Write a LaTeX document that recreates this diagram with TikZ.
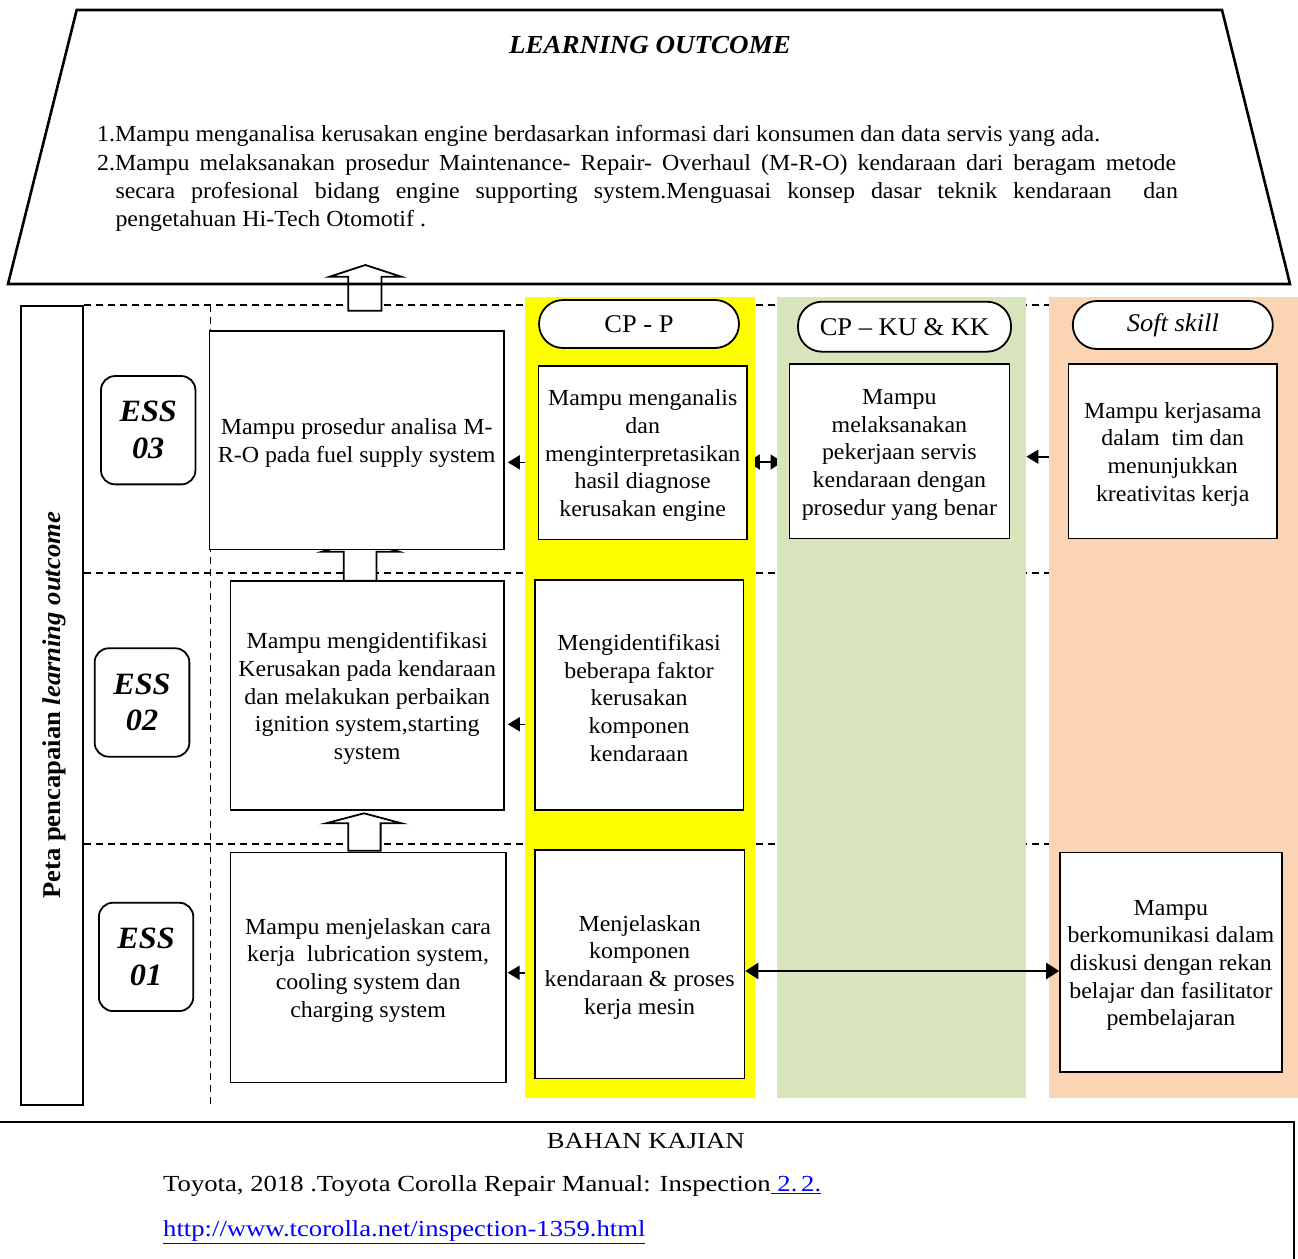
\documentclass[tikz,border=0pt]{standalone}
\usepackage{fontspec}
\setmainfont{Liberation Serif}[FakeStretch=1.04]
\newfontfamily\widefont{Liberation Serif}[FakeStretch=1.16]
\usetikzlibrary{arrows.meta,calc}
\pgfdeclarelayer{back}
\pgfdeclarelayer{cols}
\pgfsetlayers{back,cols,main}
\definecolor{colyellow}{HTML}{FFFF00}
\definecolor{colgreen}{HTML}{D8E4BC}
\definecolor{colpeach}{HTML}{FBD4B4}
\definecolor{linkblue}{HTML}{0000FF}
\newcommand{\toppad}{\rule{0pt}{22pt}}
\begin{document}
\begin{tikzpicture}[x=1pt,y=-1pt,
  box/.style={draw, fill=white, line width=1.6pt, align=center, inner sep=0pt, font=\fontsize{23}{27.7}\selectfont},
  ess/.style={draw, fill=white, line width=1.8pt, rounded corners=14pt, align=center, inner sep=0pt, font=\bfseries\itshape\fontsize{31}{36.7}\selectfont},
  pill/.style={draw, fill=white, line width=1.8pt, rounded corners=24pt, inner sep=0pt, font=\fontsize{25.5}{30}\selectfont},
  colbg/.style={fill=#1, draw=none, inner sep=0pt},
  grid/.style={dash pattern=on 7pt off 5pt, line width=1.4pt},
  conn/.style={line width=1.6pt, -{Triangle[length=12pt,width=14pt]}},
  blockarrow/.style={draw, fill=white, line width=1.8pt, line join=miter},
  txt/.style={inner sep=0pt, anchor=base west, font=\fontsize{23}{28}\selectfont},
  btxt/.style={inner sep=0pt, anchor=base west, font=\widefont\fontsize{23}{28}\selectfont},
]
\useasboundingbox (0,0) rectangle (1298,1258);

% columns
\begin{pgfonlayer}{cols}
\node[colbg=colyellow, minimum width=230.4pt, minimum height=801pt] (colY) at (640.2,697.5) {};
\node[colbg=colgreen, minimum width=249.4pt, minimum height=801pt] (colK) at (901.5,697.5) {};
\node[colbg=colpeach, minimum width=249pt, minimum height=801pt] (colS) at (1173.5,697.5) {};
\end{pgfonlayer}

% top trapezoid
\draw[line width=2.6pt, line join=miter] (76.7,10) -- (1222,10) -- (1290,284) -- (8,284) -- cycle;
\node[inner sep=0pt, anchor=base, font=\bfseries\itshape\fontsize{26}{30}\selectfont] (lo) at (650,53) {LEARNING OUTCOME};
\node[txt] (l1) at (97,141.7) {1.Mampu menganalisa kerusakan engine berdasarkan informasi dari konsumen dan data servis yang ada.};
\node[txt] (l2) at (97,170) {\makebox[1079pt][s]{2.Mampu melaksanakan prosedur Maintenance- Repair- Overhaul (M-R-O) kendaraan dari beragam metode}};
\node[txt] (l3) at (115.3,198.3) {\makebox[1062.4pt][s]{secara profesional bidang engine supporting system.Menguasai konsep dasar teknik kendaraan \ dan}};
\node[txt] (l4) at (115.3,226.6) {pengetahuan Hi-Tech Otomotif .};

% left label
\node[draw, line width=1.8pt, minimum width=62pt, minimum height=799pt, inner sep=0pt] (side) at (52,705.5) {};
\node[rotate=90, inner sep=0pt, font=\bfseries\fontsize{25.6}{30}\selectfont] (sidetxt) at (54,705.5) {Peta pencapaian \textit{learning outcome}};

% ESS labels
\node[ess, minimum width=94.4pt, minimum height=108.3pt] (ess3) at (148.2,430.2) {ESS\\03};
\node[ess, minimum width=94.7pt, minimum height=108.4pt] (ess2) at (142,702.5) {ESS\\02};
\node[ess, minimum width=94.4pt, minimum height=108.3pt] (ess1) at (146.1,956.9) {ESS\\01};

% ESS content boxes
\node[box, minimum width=294.6pt, minimum height=218.6pt] (E3) at (356.7,440) {\toppad Mampu prosedur analisa M-\\R-O pada fuel supply system};
\node[box, minimum width=273.6pt, minimum height=229pt] (E2) at (367.2,695.5) {\toppad Mampu mengidentifikasi\\Kerusakan pada kendaraan\\dan melakukan perbaikan\\ignition system,starting\\system};
\node[box, minimum width=275.4pt, minimum height=230pt] (E1) at (368.1,967.3) {\toppad Mampu menjelaskan cara\\kerja \ lubrication system,\\cooling system dan\\charging system};

% headers
\node[pill, minimum width=200pt, minimum height=48pt] (hP) at (639,324) {CP - P};
\node[pill, minimum width=213pt, minimum height=50pt] (hK) at (904.5,326.7) {CP -- KU \& KK};
\node[pill, minimum width=200pt, minimum height=48pt] (hS) at (1172.8,325) {\itshape Soft skill};

% column boxes
\node[box, minimum width=208.6pt, minimum height=173.6pt] (P1) at (642.7,452.5) {\toppad Mampu menganalis\\dan\\menginterpretasikan\\hasil diagnose\\kerusakan engine};
\node[box, minimum width=208.6pt, minimum height=230pt] (P2) at (639.1,695) {\toppad Mengidentifikasi\\beberapa faktor\\kerusakan\\komponen\\kendaraan};
\node[box, minimum width=209.7pt, minimum height=228.3pt] (P3) at (639.65,964.2) {\toppad Menjelaskan\\komponen\\kendaraan \& proses\\kerja mesin};
\node[box, minimum width=220.2pt, minimum height=174.3pt] (K1) at (899.4,451.2) {\toppad Mampu\\melaksanakan\\pekerjaan servis\\kendaraan dengan\\prosedur yang benar};
\node[box, minimum width=208.6pt, minimum height=174.3pt] (S1) at (1172.7,451.2) {\toppad Mampu kerjasama\\dalam \ tim dan\\menunjukkan\\kreativitas kerja};
\node[box, minimum width=221.8pt, minimum height=219.4pt] (S2) at (1170.9,962) {\toppad Mampu\\berkomunikasi dalam\\diskusi dengan rekan\\belajar dan fasilitator\\pembelajaran};

% background: grid lines, block arrows, hidden connectors
\begin{pgfonlayer}{back}
\draw[grid] (side.east |- 0,305) -- (1060,305);
\draw[grid] (side.east |- 0,573) -- (1060,573);
\draw[grid] (side.east |- 0,844) -- (1060,844);
\draw[grid] (210.4,305) -- (210.4,1107);
% block arrows
\draw[blockarrow] (365.4,265) -- (401.3,276.7) -- (381.4,276.7) -- (381.4,310.7) -- (348.2,310.7) -- (348.2,276.7) -- (329.6,276.7) -- cycle;
\draw[blockarrow] (360.4,540) -- (399,551.7) -- (376.4,551.7) -- (376.4,580.7) -- (343.7,580.7) -- (343.7,551.7) -- (322,551.7) -- cycle;
\draw[blockarrow] (364,813.3) -- (401.6,823.3) -- (380.6,823.3) -- (380.6,850.7) -- (348.3,850.7) -- (348.3,823.3) -- (326,823.3) -- cycle;
% arrows from CP-P to ESS boxes
\coordinate (a3) at ([yshift=-9.8pt]P1.west);
\coordinate (a2) at ([yshift=-29.3pt]P2.west);
\coordinate (a1) at ([yshift=-8.5pt]P3.west);
\draw[conn, shorten >=3pt] (a3) -- (a3 -| E3.east);
\draw[conn, shorten >=3pt] (a2) -- (a2 -| E2.east);
\draw[conn, shorten >=1pt] (a1) -- (a1 -| E1.east);
% P1 <-> K1
\coordinate (h1) at ([yshift=-9.5pt]P1.east);
\draw[line width=1.6pt, {Triangle[length=12pt,width=15pt]}-{Triangle[length=12pt,width=15pt]}, shorten >=6pt] (h1) -- (h1 -| K1.west);
\end{pgfonlayer}

% visible connectors
\coordinate (s1a) at ([yshift=-5.5pt]S1.west);
\draw[conn] (s1a -| colS.west) -- (s1a -| colK.east);
\coordinate (d1) at ([yshift=-6.8pt]P3.east);
\draw[line width=2.6pt, {Triangle[length=13pt,width=16pt]}-{Triangle[length=13pt,width=16pt]}] (d1) -- (d1 -| S2.west);

% bottom box
\draw[line width=2.4pt, line join=miter] (0,1121.7) -- (1294,1121.7) -- (1294,1262);
\node[inner sep=0pt, anchor=base, font=\widefont\fontsize{23}{28}\selectfont] (bk) at (645.7,1148.3) {BAHAN KAJIAN};
\node[btxt] (ref1) at (163,1191.7) {Toyota, 2018 .Toyota Corolla Repair Manual: Inspection\textcolor{linkblue}{\underline{\ 2.\,2.}}};
\node[btxt, text=linkblue] (ref2) at (163,1236.7) {\underline{http://www.tcorolla.net/inspection-1359.html}};
\end{tikzpicture}
\end{document}
